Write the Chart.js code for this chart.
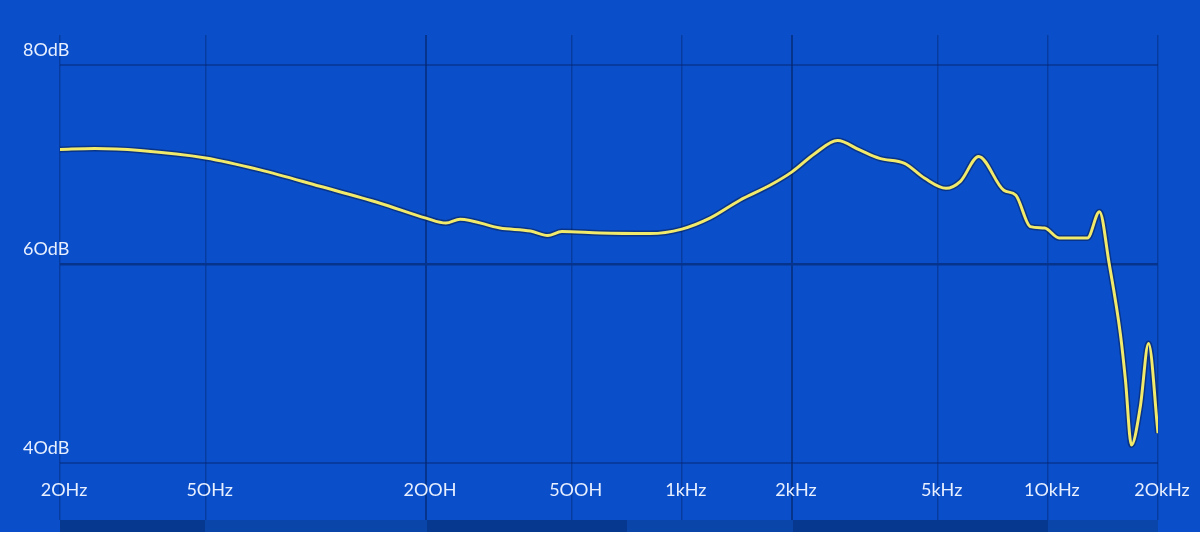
<!DOCTYPE html>
<html lang="en">
<head>
    <meta charset="UTF-8">
    <title>Frequency response</title>
    <script src="https://cdn.jsdelivr.net/npm/chart.js"></script>
    <style>
        body {
            margin: 0;
            background: #ffffff;
        }
        .panel {
            position: relative;
            width: 1200px;
            height: 532px;
            background: #0a4fc9;
        }
        .strip {
            position: absolute;
            left: 60px;
            top: 520px;
            width: 1098px;
            height: 12px;
            background: linear-gradient(to right,
                #07388f 0px, #07388f 145px,
                #0a45aa 145px, #0a45aa 367px,
                #07388f 367px, #07388f 567px,
                #0a45aa 567px, #0a45aa 733px,
                #07388f 733px, #07388f 988px,
                #0a45aa 988px, #0a45aa 1098px);
        }
        canvas {
            position: absolute;
            left: 0;
            top: 0;
        }
    </style>
</head>
<body>
    <div class="panel">
        <div class="strip"></div>
        <canvas id="frChart" width="1200" height="532"></canvas>
    </div>

    <script>
        // frequencies (Hz) and levels (dB)
        const freqs = [20, 24.9, 33.1, 50, 70.4, 102.6, 149.8, 200, 226.6, 247.8, 318.6, 386, 430, 470, 598, 818,
            1000, 1193, 1441, 1741, 2000, 2310, 2664, 3060, 3470, 4060, 4610, 5270, 5770, 6470, 7580, 8180, 8960,
            9800, 10740, 12830, 13840, 14700, 15780, 16300, 16920, 17900, 18840, 20000];
        const levels = [71.5, 71.6, 71.4, 70.65, 69.45, 67.8, 66.1, 64.6, 64.1, 64.5, 63.6, 63.3, 62.85, 63.25, 63.1, 63.05,
            63.5, 64.6, 66.4, 67.9, 69.25, 71.1, 72.4, 71.45, 70.6, 70.1, 68.6, 67.6, 68.3, 70.8, 67.4, 66.9, 63.75,
            63.6, 62.6, 62.6, 65.25, 60.1, 53.0, 48.3, 41.8, 45.7, 52.0, 43.0];

        const xTicks = [20, 50, 200, 500, 1000, 2000, 5000, 10000, 20000];
        const xTickLabels = ['2OHz', '5OHz', '2OOH', '5OOH', '1kHz', '2kHz', '5kHz', '1OkHz', '2OkHz'];
        const yTicks = [40, 60, 80];
        const yTickLabels = ['4OdB', '6OdB', '8OdB'];

        const majorX = [200, 2000];
        const majorY = [60];

        const points = freqs.map((f, i) => ({ x: f, y: levels[i] }));
        const labelFont = { family: 'Lato', size: 18 };

        const ctx = document.getElementById('frChart').getContext('2d');
        const frChart = new Chart(ctx, {
            type: 'line',
            data: {
                datasets: [{
                    // yellow trace
                    data: points,
                    borderColor: '#f2ea6a',
                    borderWidth: 3,
                    pointRadius: 0,
                    cubicInterpolationMode: 'monotone',
                    fill: false
                }, {
                    // dark edge under the trace
                    data: points,
                    borderColor: 'rgba(10, 30, 80, 0.55)',
                    borderWidth: 6,
                    pointRadius: 0,
                    cubicInterpolationMode: 'monotone',
                    fill: false
                }]
            },
            options: {
                responsive: false,
                animation: false,
                layout: { padding: { top: 35, left: 23, right: 42, bottom: 0 } },
                plugins: {
                    legend: { display: false },
                    tooltip: { enabled: false }
                },
                scales: {
                    x: {
                        type: 'logarithmic',
                        min: 20,
                        max: 20000,
                        afterBuildTicks: s => { s.ticks = xTicks.map(v => ({ value: v })); },
                        afterFit: s => { s.height = 69; },
                        border: { display: false },
                        grid: {
                            drawTicks: true,
                            tickLength: 57,
                            color: c => majorX.includes(c.tick && c.tick.value) ? '#06348c' : 'rgba(5, 35, 110, 0.45)',
                            lineWidth: c => majorX.includes(c.tick && c.tick.value) ? 2 : 1.5
                        },
                        ticks: {
                            autoSkip: false,
                            maxRotation: 0,
                            padding: -41,
                            labelOffset: 4,
                            color: '#e8efff',
                            font: labelFont,
                            callback: v => xTickLabels[xTicks.indexOf(v)]
                        }
                    },
                    y: {
                        min: 40,
                        max: 83,
                        afterBuildTicks: s => { s.ticks = yTicks.map(v => ({ value: v })); },
                        afterFit: s => { s.width = 37; },
                        border: { display: false },
                        grid: {
                            drawTicks: false,
                            color: c => majorY.includes(c.tick && c.tick.value) ? '#06348c' : 'rgba(5, 35, 110, 0.45)',
                            lineWidth: c => majorY.includes(c.tick && c.tick.value) ? 2.5 : 2
                        },
                        ticks: {
                            mirror: true,
                            padding: -37,
                            labelOffset: -15,
                            color: '#e8efff',
                            font: labelFont,
                            callback: v => yTickLabels[yTicks.indexOf(v)]
                        }
                    }
                }
            }
        });
    </script>
</body>
</html>
